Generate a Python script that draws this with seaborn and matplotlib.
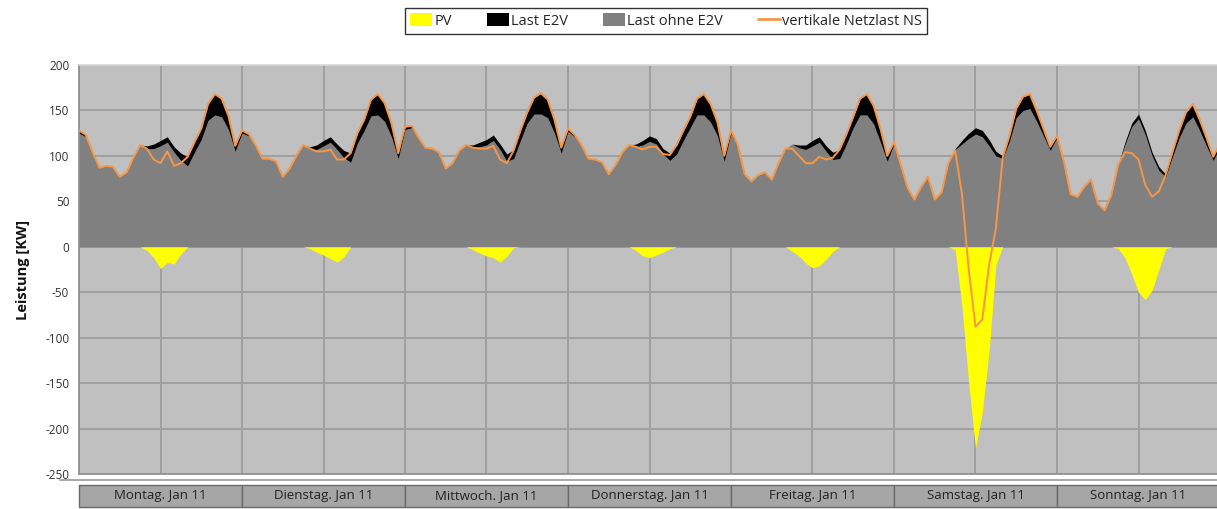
import numpy as np
import pandas as pd
import matplotlib
matplotlib.use("Agg")
import matplotlib.pyplot as plt
from matplotlib.patches import Patch, Rectangle
from matplotlib.lines import Line2D
import seaborn as sns

# ---------------- data (hourly, one list per day) ----------------
days = ["Montag. Jan 11", "Dienstag. Jan 11", "Mittwoch. Jan 11", "Donnerstag. Jan 11",
        "Freitag. Jan 11", "Samstag. Jan 11", "Sonntag. Jan 11"]

# Last ohne E2V (grey)
grey_mo = [125,121,104,87,89,88,77,82,98,112,108,108,111,115,104,95,89,104,118,139,145,143,129,105]
grey_di = [125,122,112,97,97,94,77,86,100,112,107,107,111,115,107,98,93,114,128,144,145,138,121,97]
grey_mi = [129,131,120,109,108,104,86,92,106,112,109,110,112,117,107,94,97,117,136,146,146,142,125,103]
grey_do = [127,121,112,97,96,93,80,90,104,112,110,112,116,113,102,95,102,117,131,145,145,137,122,94]
grey_fr = [125,110,80,72,79,82,74,92,108,113,109,107,111,115,105,96,97,113,131,145,145,135,115,94]
grey_sa = [113,89,65,52,66,77,52,60,92,107,113,119,124,121,111,100,97,116,142,150,152,138,122,106]
grey_so = [120,93,58,55,66,74,48,40,57,90,112,132,141,123,100,84,77,99,120,136,143,128,111,95]
grey_end = [110]

# Last E2V (black, stacked on grey)
e2v_mo = [3,2,0,0,0,0,0,0,0,0,3,5,6,6,6,8,10,11,12,18,23,20,15,6]
e2v_di = [3,2,0,0,0,0,0,0,0,0,3,5,6,6,6,8,10,11,12,18,23,20,15,6]
e2v_mi = [3,2,0,0,0,0,0,0,0,0,3,5,6,6,6,8,10,11,12,18,23,20,15,6]
e2v_do = [3,2,0,0,0,0,0,0,0,0,3,5,6,6,6,8,10,11,12,18,23,20,15,6]
e2v_fr = [3,2,0,0,0,0,0,0,0,0,3,5,6,6,6,8,10,11,12,18,23,20,15,6]
e2v_sa = [2,1,0,0,0,0,0,0,0,1,4,6,7,7,7,5,3,6,10,15,16,12,8,4]
e2v_so = [2,1,0,0,0,0,0,0,0,0,3,4,5,5,4,4,3,5,8,12,14,12,9,4]
e2v_end = [4]

# PV (yellow, negative)
pv_mo = [0,0,0,0,0,0,0,0,0,0,-4,-12,-24,-17,-19,-8,0,0,0,0,0,0,0,0]
pv_di = [0,0,0,0,0,0,0,0,0,0,-2,-6,-9,-13,-17,-11,0,0,0,0,0,0,0,0]
pv_mi = [0,0,0,0,0,0,0,0,0,0,-3,-7,-10,-12,-17,-10,-1,0,0,0,0,0,0,0]
pv_do = [0,0,0,0,0,0,0,0,0,0,-4,-10,-12,-9,-6,-2,0,0,0,0,0,0,0,0]
pv_fr = [0,0,0,0,0,0,0,0,0,-5,-10,-18,-23,-21,-14,-5,0,0,0,0,0,0,0,0]
pv_sa = [0,0,0,0,0,0,0,0,0,-3,-65,-150,-222,-182,-115,-20,0,0,0,0,0,0,0,0]
pv_so = [0,0,0,0,0,0,0,0,0,-2,-12,-30,-50,-58,-48,-25,-2,0,0,0,0,0,0,0]
pv_end = [0]

# vertikale Netzlast NS (orange line)
ns_mo = [128,123,104,87,89,88,77,82,98,112,108,96,92,105,89,92,99,115,130,157,168,163,144,111]
ns_di = [128,124,112,97,97,94,77,86,100,112,108,105,105,107,96,96,103,125,140,162,168,158,136,103]
ns_mi = [132,133,120,109,108,104,86,92,106,112,109,108,108,111,96,92,106,128,148,164,169,162,140,109]
ns_do = [130,123,112,97,96,93,80,90,104,112,110,107,110,110,102,101,112,128,143,163,168,157,137,100]
ns_fr = [128,112,80,72,79,82,74,92,108,108,100,92,92,99,96,98,107,124,143,163,168,155,130,100]
ns_sa = [115,90,65,52,66,77,52,60,92,106,58,-25,-88,-80,-20,20,98,122,152,165,168,150,130,110]
ns_so = [122,94,58,55,66,74,48,40,57,90,104,103,96,68,55,61,79,104,128,148,157,140,120,99]
ns_end = [114]

y_ticks = [-250, -200, -150, -100, -50, 0, 50, 100, 150, 200]

grey = np.array(grey_mo + grey_di + grey_mi + grey_do + grey_fr + grey_sa + grey_so + grey_end, float)
e2v = np.array(e2v_mo + e2v_di + e2v_mi + e2v_do + e2v_fr + e2v_sa + e2v_so + e2v_end, float)
pv = np.array(pv_mo + pv_di + pv_mi + pv_do + pv_fr + pv_sa + pv_so + pv_end, float)
ns = np.array(ns_mo + ns_di + ns_mi + ns_do + ns_fr + ns_sa + ns_so + ns_end, float)
hours = np.arange(len(grey))
df = pd.DataFrame({"h": hours, "ns": ns})

# ---------------- style ----------------
sns.set_theme(style="white")
plt.rcParams["font.family"] = ["Open Sans", "DejaVu Sans"]

W, H = 1217, 509
fig = plt.figure(figsize=(W / 100, H / 100), dpi=100)
ax_l, ax_r = 79 / W, 1220 / W
ax = fig.add_axes([ax_l, 1 - 474 / H, ax_r - ax_l, (474 - 65) / H])
ax.set_facecolor("#c0c0c0")

c_grey, c_black, c_pv, c_ns = "#808080", "#000000", "#ffff00", "#f79646"

ax.fill_between(hours, 0, grey, color=c_grey, lw=0, zorder=2)
ax.fill_between(hours, grey, grey + e2v, color=c_black, lw=0, zorder=2)
ax.fill_between(hours, 0, pv, color=c_pv, lw=0, zorder=2)
sns.lineplot(data=df, x="h", y="ns", ax=ax, color=c_ns, lw=1.4, zorder=4)

ax.set_xlim(0, 168)
ax.set_ylim(-250, 200)
ax.set_yticks(y_ticks)
ax.set_yticklabels([str(v) for v in y_ticks], fontsize=8.5, color="#333333")
ax.set_xticks(np.arange(0, 169, 12))
ax.set_xticklabels([])
ax.tick_params(axis="x", length=0)
ax.tick_params(axis="y", length=4, width=1, color="#888888", direction="out", pad=3)
ax.grid(True, color="#a0a0a0", lw=1.4, zorder=1)
ax.set_axisbelow(True)
for s in ["left", "bottom"]:
    ax.spines[s].set_color("#8c8c8c")
    ax.spines[s].set_linewidth(1.2)
ax.spines["top"].set_color("#d9d9d9")
ax.spines["right"].set_visible(False)
ax.set_xlabel("")
ax.set_ylabel("Leistung [KW]", fontsize=10.5, fontweight="bold", color="#111111", labelpad=11)

# ---------------- day label boxes ----------------
fig.add_artist(Line2D([60 / W, 1], [1 - 480 / H, 1 - 480 / H], color="#9a9a9a", lw=1.2,
                      transform=fig.transFigure))
day_w = (ax_r - ax_l) / 7
for i, d in enumerate(days):
    x0 = ax_l + i * day_w
    r = Rectangle((x0, 1 - 507 / H), day_w, 22 / H, transform=fig.transFigure,
                  facecolor="#a6a6a6", edgecolor="#6a6a6a", lw=1.0, zorder=1)
    fig.add_artist(r)
    fig.text(x0 + day_w / 2, 1 - 496 / H, d, ha="center", va="center",
             fontsize=9.5, color="#222222", zorder=5)

# ---------------- legend ----------------
handles = [Patch(facecolor=c_pv, edgecolor="none", label="PV"),
           Patch(facecolor=c_black, edgecolor="none", label="Last E2V"),
           Patch(facecolor=c_grey, edgecolor="none", label="Last ohne E2V"),
           Line2D([], [], color=c_ns, lw=2, label="vertikale Netzlast NS")]
leg = fig.legend(handles=handles, loc="center", bbox_to_anchor=(666 / W, 1 - 21 / H), ncol=4,
                 frameon=True, fancybox=False, fontsize=10.5, handlelength=1.5, handleheight=0.9,
                 handletextpad=0.15, columnspacing=2.4, borderpad=0.35, borderaxespad=0)
leg.get_frame().set_edgecolor("#000000")
leg.get_frame().set_linewidth(1.0)

fig.savefig("out.png", dpi=100)
